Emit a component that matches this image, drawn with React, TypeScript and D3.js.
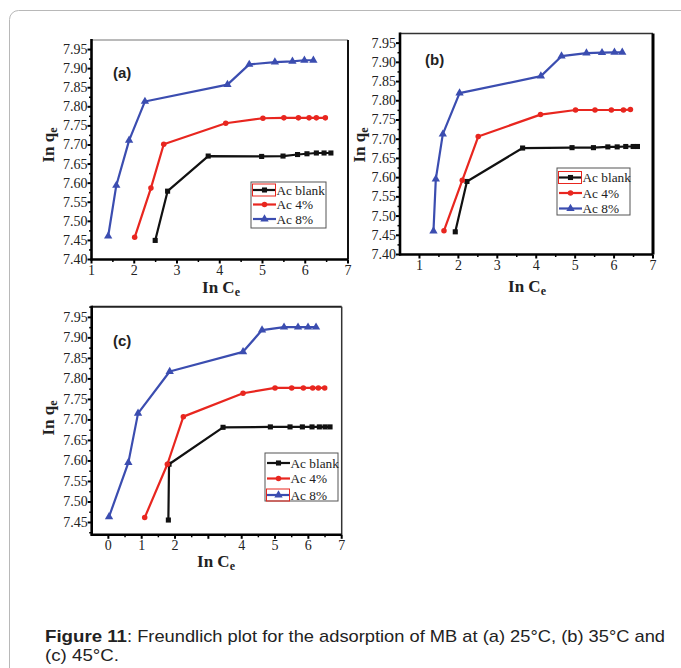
import React from "react";
import * as d3 from "d3";

const seriesNames = ["Ac blank", "Ac 4%", "Ac 8%"];
const seriesColors = ["#111111", "#e8261f", "#3b4db0"];
const seriesSymbols = [d3.symbolSquare, d3.symbolCircle, d3.symbolTriangle];

// (a) 25°C
const aBlankX = [2.49, 2.78, 3.73, 4.98, 5.48, 5.82, 6.04, 6.26, 6.44, 6.6];
const aBlankY = [7.45, 7.579, 7.671, 7.67, 7.671, 7.675, 7.677, 7.679, 7.679, 7.679];
const a4X = [2.01, 2.39, 2.69, 4.14, 5.01, 5.5, 5.84, 6.09, 6.26, 6.47];
const a4Y = [7.458, 7.587, 7.702, 7.757, 7.77, 7.771, 7.771, 7.771, 7.771, 7.771];
const a8X = [1.39, 1.58, 1.88, 2.25, 4.18, 4.69, 5.29, 5.7, 5.98, 6.19];
const a8Y = [7.461, 7.594, 7.712, 7.814, 7.858, 7.911, 7.917, 7.919, 7.922, 7.922];

// (b) 35°C
const bBlankX = [1.92, 2.22, 3.65, 4.92, 5.47, 5.84, 6.08, 6.3, 6.49, 6.6];
const bBlankY = [7.459, 7.59, 7.677, 7.678, 7.678, 7.68, 7.68, 7.681, 7.681, 7.681];
const b4X = [1.63, 2.1, 2.51, 4.11, 5.01, 5.51, 5.93, 6.24, 6.42];
const b4Y = [7.462, 7.593, 7.707, 7.764, 7.776, 7.776, 7.776, 7.776, 7.777];
const b8X = [1.36, 1.42, 1.6, 2.03, 4.12, 4.65, 5.29, 5.69, 6.01, 6.21];
const b8Y = [7.461, 7.596, 7.713, 7.82, 7.864, 7.916, 7.924, 7.925, 7.926, 7.926];

// (c) 45°C
const cBlankX = [1.8, 1.82, 3.44, 4.86, 5.45, 5.82, 6.11, 6.33, 6.5, 6.65];
const cBlankY = [7.456, 7.592, 7.682, 7.683, 7.683, 7.683, 7.683, 7.683, 7.683, 7.683];
const c4X = [1.09, 1.77, 2.25, 4.04, 5.0, 5.5, 5.85, 6.13, 6.3, 6.49];
const c4Y = [7.462, 7.592, 7.708, 7.765, 7.778, 7.778, 7.778, 7.778, 7.778, 7.778];
const c8X = [0.02, 0.6, 0.89, 1.84, 4.04, 4.61, 5.27, 5.69, 5.99, 6.23];
const c8Y = [7.464, 7.596, 7.716, 7.818, 7.866, 7.919, 7.926, 7.926, 7.926, 7.926];

const yTicksAB = [7.4, 7.45, 7.5, 7.55, 7.6, 7.65, 7.7, 7.75, 7.8, 7.85, 7.9, 7.95];
const yTicksC = [7.45, 7.5, 7.55, 7.6, 7.65, 7.7, 7.75, 7.8, 7.85, 7.9, 7.95];
const xTicksAB = [1, 2, 3, 4, 5, 6, 7];
const xTicksC = [0, 1, 2, 3, 4, 5, 6, 7];
const xTickLabelsC = ["0", "1", "2", "", "4", "5", "6", "7"];
const panelLabels = ["(a)", "(b)", "(c)"];
const captionBold = "Figure 11";
const captionRest = ": Freundlich plot for the adsorption of MB at (a) 25°C, (b) 35°C and";
const captionLine2 = "(c) 45°C.";

const serif = "'Liberation Serif', 'DejaVu Serif', serif";
const sans = "'Liberation Sans', Arial, sans-serif";

type Cfg = {
  label: string;
  left: number; right: number; top: number; bottom: number;
  xDom: [number, number]; yDom: [number, number];
  xTicks: number[]; xLabels: string[]; yTicks: number[];
  series: { x: number[]; y: number[] }[];
  legend: { x: number; y: number; w: number; h: number; rows: number[]; hi: number };
  labelPos: [number, number];
  yTitle: [number, number];
  xTitle: [number, number];
  topStroke: [string, number];
  rightStroke: [string, number];
};

function Panel({ c }: { c: Cfg }) {
  const xs = d3.scaleLinear().domain(c.xDom).range([c.left, c.right]);
  const ys = d3.scaleLinear().domain(c.yDom).range([c.bottom, c.top]);
  const line = d3.line<[number, number]>().x((d) => xs(d[0])).y((d) => ys(d[1]));
  const symSizes = [26, 24, 30];
  const yMinor = c.yTicks.map((t) => t + 0.025).filter((t) => t < c.yDom[1]);
  if (c.yTicks[0] - 0.025 > c.yDom[0]) yMinor.push(c.yTicks[0] - 0.025);
  const xMinor = c.xTicks.map((t) => t - 0.5).filter((t) => t > c.xDom[0]);
  return (
    <g>
      <line x1={c.left} x2={c.right} y1={c.top} y2={c.top} stroke={c.topStroke[0]} strokeWidth={c.topStroke[1]} />
      <line x1={c.right} x2={c.right} y1={c.top} y2={c.bottom} stroke={c.rightStroke[0]} strokeWidth={c.rightStroke[1]} />
      <line x1={c.left} x2={c.left} y1={c.top - 1} y2={c.bottom + 1} stroke="#000" strokeWidth={2.6} />
      <line x1={c.left - 1} x2={c.right} y1={c.bottom} y2={c.bottom} stroke="#000" strokeWidth={2.6} />
      {c.yTicks.map((t, i) => (
        <g key={"yt" + i}>
          <line x1={c.left - 4} x2={c.left} y1={ys(t)} y2={ys(t)} stroke="#000" strokeWidth={2} />
          <text x={c.left - 4} y={ys(t) + 4.5} fontFamily={serif} fontSize={14} textAnchor="end" fill="#222">
            {t.toFixed(2)}
          </text>
        </g>
      ))}
      {yMinor.map((t, i) => (
        <line key={"ym" + i} x1={c.left - 2.5} x2={c.left} y1={ys(t)} y2={ys(t)} stroke="#000" strokeWidth={1.5} />
      ))}
      {c.xTicks.map((t, i) => (
        <g key={"xt" + i}>
          <line x1={xs(t)} x2={xs(t)} y1={c.bottom} y2={c.bottom + 4} stroke="#000" strokeWidth={2} />
          <text x={xs(t)} y={c.bottom + 15} fontFamily={serif} fontSize={14} textAnchor="middle" fill="#222">
            {c.xLabels[i]}
          </text>
        </g>
      ))}
      {xMinor.map((t, i) => (
        <line key={"xm" + i} x1={xs(t)} x2={xs(t)} y1={c.bottom} y2={c.bottom + 2.5} stroke="#000" strokeWidth={1.5} />
      ))}
      {c.series.map((s, si) => {
        const pts: [number, number][] = s.x.map((x, i) => [x, s.y[i]]);
        const sym = d3.symbol().type(seriesSymbols[si]).size(symSizes[si]);
        return (
          <g key={"s" + si}>
            <path d={line(pts) || ""} fill="none" stroke={seriesColors[si]} strokeWidth={2.2} strokeLinejoin="round" />
            {pts.map((p, i) => (
              <path key={i} d={sym() || ""} transform={`translate(${xs(p[0])},${ys(p[1])})`} fill={seriesColors[si]} />
            ))}
          </g>
        );
      })}
      <rect x={c.legend.x} y={c.legend.y} width={c.legend.w} height={c.legend.h} fill="#fff" stroke="#555" strokeWidth={1} />
      {seriesNames.map((n, i) => {
        const yy = c.legend.rows[i];
        const sym = d3.symbol().type(seriesSymbols[i]).size(symSizes[i]);
        return (
          <g key={"l" + i}>
            <line x1={c.legend.x + 2} x2={c.legend.x + 25} y1={yy} y2={yy} stroke={seriesColors[i]} strokeWidth={2.2} />
            <path d={sym() || ""} transform={`translate(${c.legend.x + 13.5},${yy})`} fill={seriesColors[i]} />
            {c.legend.hi === i && (
              <rect x={c.legend.x + 1.5} y={yy - 6} width={23} height={12} fill="none" stroke="#e8261f" strokeWidth={1} />
            )}
            <text x={c.legend.x + 25.5} y={yy + 4.5} fontFamily={serif} fontSize={13.3} fill="#222">
              {n}
            </text>
          </g>
        );
      })}
      <text x={c.labelPos[0]} y={c.labelPos[1]} fontFamily={sans} fontWeight="bold" fontSize={15} fill="#222">
        {c.label}
      </text>
      <text
        transform={`translate(${c.yTitle[0]},${c.yTitle[1]}) rotate(-90)`}
        textAnchor="middle"
        fontFamily={serif}
        fontWeight="bold"
        fontSize={17}
        fill="#222"
      >
        In q<tspan fontSize={12} dy={3}>e</tspan>
      </text>
      <text x={c.xTitle[0]} y={c.xTitle[1]} textAnchor="middle" fontFamily={serif} fontWeight="bold" fontSize={17} fill="#222">
        In C<tspan fontSize={12} dy={3}>e</tspan>
      </text>
    </g>
  );
}

const panels: Cfg[] = [
  {
    label: panelLabels[0],
    left: 91.5, right: 348, top: 40, bottom: 259.5,
    xDom: [1, 7], yDom: [7.4, 7.975],
    xTicks: xTicksAB, xLabels: xTicksAB.map(String), yTicks: yTicksAB,
    series: [{ x: aBlankX, y: aBlankY }, { x: a4X, y: a4Y }, { x: a8X, y: a8Y }],
    legend: { x: 251, y: 182, w: 75, h: 46, rows: [190, 204.5, 219], hi: 0 },
    labelPos: [113, 78],
    yTitle: [54, 145],
    xTitle: [221, 293],
    topStroke: ["#777", 1.2],
    rightStroke: ["#111", 2],
  },
  {
    label: panelLabels[1],
    left: 400, right: 653, top: 33.5, bottom: 254.5,
    xDom: [0.5, 7], yDom: [7.4, 7.975],
    xTicks: xTicksAB, xLabels: xTicksAB.map(String), yTicks: yTicksAB,
    series: [{ x: bBlankX, y: bBlankY }, { x: b4X, y: b4Y }, { x: b8X, y: b8Y }],
    legend: { x: 557, y: 168, w: 73, h: 47, rows: [177.5, 193, 208.5], hi: 0 },
    labelPos: [425, 65],
    yTitle: [365, 145],
    xTitle: [527, 292],
    topStroke: ["#333", 1.6],
    rightStroke: ["#000", 3],
  },
  {
    label: panelLabels[2],
    left: 91.7, right: 341.7, top: 306.7, bottom: 534.8,
    xDom: [-0.5, 7], yDom: [7.42, 7.976],
    xTicks: xTicksC, xLabels: xTickLabelsC, yTicks: yTicksC,
    series: [{ x: cBlankX, y: cBlankY }, { x: c4X, y: c4Y }, { x: c8X, y: c8Y }],
    legend: { x: 265, y: 453, w: 73, h: 48, rows: [463, 478.5, 495], hi: 2 },
    labelPos: [113, 346],
    yTitle: [54, 418],
    xTitle: [216, 567],
    topStroke: ["#222", 2],
    rightStroke: ["#333", 1.5],
  },
];

export default function App() {
  return (
    <svg
      width={681}
      height={668}
      style={{ position: "absolute", left: 0, top: 0, background: "#fff" }}
      xmlns="http://www.w3.org/2000/svg"
    >
      <rect x={0} y={0} width={681} height={668} fill="#fff" />
      <rect x={9.5} y={10.5} width={720} height={720} rx={9} fill="none" stroke="#b8b8b8" strokeWidth={1} />
      {panels.map((p, i) => (
        <Panel key={i} c={p} />
      ))}
      <text x={45} y={642} fontFamily={sans} fontSize={17} fill="#222" fontWeight="bold" textLength={82} lengthAdjust="spacingAndGlyphs">
        {captionBold}
      </text>
      <text x={127} y={642} fontFamily={sans} fontSize={17} fill="#222" textLength={538} lengthAdjust="spacingAndGlyphs">
        {captionRest}
      </text>
      <text x={45} y={661} fontFamily={sans} fontSize={17} fill="#222" textLength={74} lengthAdjust="spacingAndGlyphs">
        {captionLine2}
      </text>
    </svg>
  );
}
